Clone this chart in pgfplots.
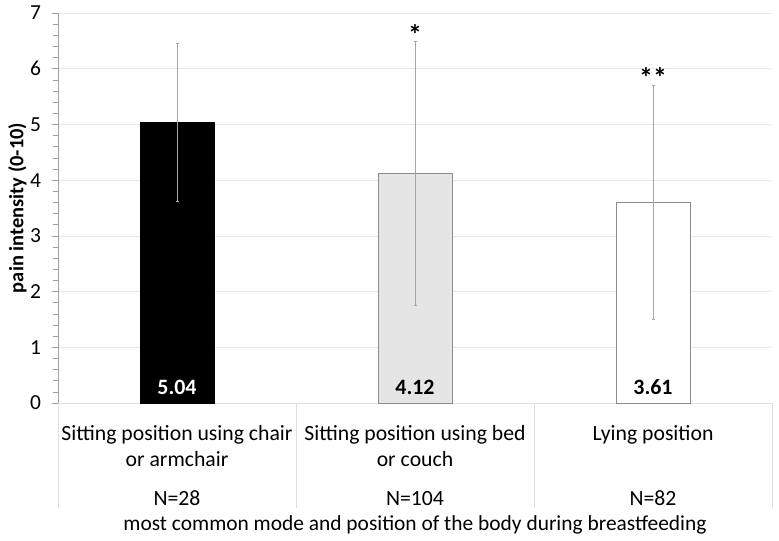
\documentclass[border=0pt]{standalone}
\usepackage{pgfplots}
\pgfplotsset{compat=1.18}
\usepackage{fontspec}
\setmainfont{Carlito}
\definecolor{barline}{HTML}{8C8C8C}
\definecolor{errc}{HTML}{A6A6A6}
\definecolor{gridc}{HTML}{E8E8E8}
\definecolor{sepc}{HTML}{E0E0E0}
\definecolor{axc}{HTML}{A0A0A0}
\begin{document}
\begin{tikzpicture}
\useasboundingbox (0,0) rectangle (779bp,541bp);
\begin{axis}[
  at={(58bp,138bp)}, anchor=south west,
  width=714bp, height=390bp, scale only axis,
  xmin=-0.5, xmax=2.5, ymin=0, ymax=7,
  clip=false,
  axis x line*=bottom, axis y line*=left,
  x axis line style={draw=sepc, line width=0.7bp},
  y axis line style={draw=axc, line width=0.7bp},
  ytick={0,1,2,3,4,5,6,7},
  minor y tick num=4,
  tick align=outside,
  major tick length=6.5bp, minor tick length=5bp,
  y tick style={draw=axc, line width=0.7bp},
  minor y tick style={draw=axc, line width=0.6bp},
  xtick={0,1,2},
  x tick style={draw=none},
  ymajorgrids,
  major grid style={draw=gridc, line width=0.7bp},
  /pgf/number format/assume math mode=true,
  yticklabel style={font=\fontsize{21.5}{21.5}\selectfont, text=black, xshift=-7bp},
  xticklabels={{Sitting position using chair\\or armchair\\[14bp]N=28},
               {Sitting position using bed\\or couch\\[14bp]N=104},
               {Lying position\\\mbox{}\\[14bp]N=82}},
  xticklabel style={align=center, font=\fontsize{21.8}{26}\selectfont, anchor=north, yshift=-12bp, text=black},
  xlabel={most common mode and position of the body during breastfeeding},
  xlabel style={at={(axis description cs:0.5,0)}, anchor=base, yshift=-127bp, font=\fontsize{21.5}{21.5}\selectfont},
  ylabel={pain intensity (0-10)},
  ylabel style={at={([xshift=-40.5bp]axis description cs:0,0.5)}, anchor=center, font=\bfseries\fontsize{20.5}{20.5}\selectfont},
]
\addplot[ybar, bar shift=0pt, bar width=74bp, fill=black, draw=black,
  error bars/.cd, y dir=both, y explicit,
  error bar style={draw=errc, line width=0.6bp},
  error mark options={rotate=90, mark size=1.5bp, draw=errc}]
  coordinates {(0,5.04) +- (0,1.41)};
\addplot[ybar, bar shift=0pt, bar width=74bp, fill=gray!20, draw=barline, line width=0.7bp,
  error bars/.cd, y dir=both, y explicit,
  error bar style={draw=errc, line width=0.6bp},
  error mark options={rotate=90, mark size=1.5bp, draw=errc}]
  coordinates {(1,4.12) +- (0,2.37)};
\addplot[ybar, bar shift=0pt, bar width=74bp, fill=white, draw=barline, line width=0.7bp,
  error bars/.cd, y dir=both, y explicit,
  error bar style={draw=errc, line width=0.6bp},
  error mark options={rotate=90, mark size=1.5bp, draw=errc}]
  coordinates {(2,3.61) +- (0,2.10)};
\node[anchor=base, yshift=8bp, text=white, font=\bfseries\fontsize{22}{22}\selectfont] at (axis cs:0,0) {5.04};
\node[anchor=base, yshift=8bp, text=black, font=\bfseries\fontsize{22}{22}\selectfont] at (axis cs:1,0) {4.12};
\node[anchor=base, yshift=8bp, text=black, font=\bfseries\fontsize{22}{22}\selectfont] at (axis cs:2,0) {3.61};
\node[anchor=center, font=\bfseries\fontsize{28}{28}\selectfont, inner sep=0pt] at (axis cs:1,6.61) {*};
\node[anchor=center, font=\bfseries\fontsize{28}{28}\selectfont, inner sep=0pt] at (axis cs:2,5.84) {**};
\draw[sepc, line width=0.7bp] (axis cs:-0.5,0) -- ([yshift=-105bp]axis cs:-0.5,0);
\draw[sepc, line width=0.7bp] (axis cs:0.5,0) -- ([yshift=-105bp]axis cs:0.5,0);
\draw[sepc, line width=0.7bp] (axis cs:1.5,0) -- ([yshift=-105bp]axis cs:1.5,0);
\draw[sepc, line width=0.7bp] (axis cs:2.5,0) -- ([yshift=-105bp]axis cs:2.5,0);
\end{axis}
\end{tikzpicture}
\end{document}
